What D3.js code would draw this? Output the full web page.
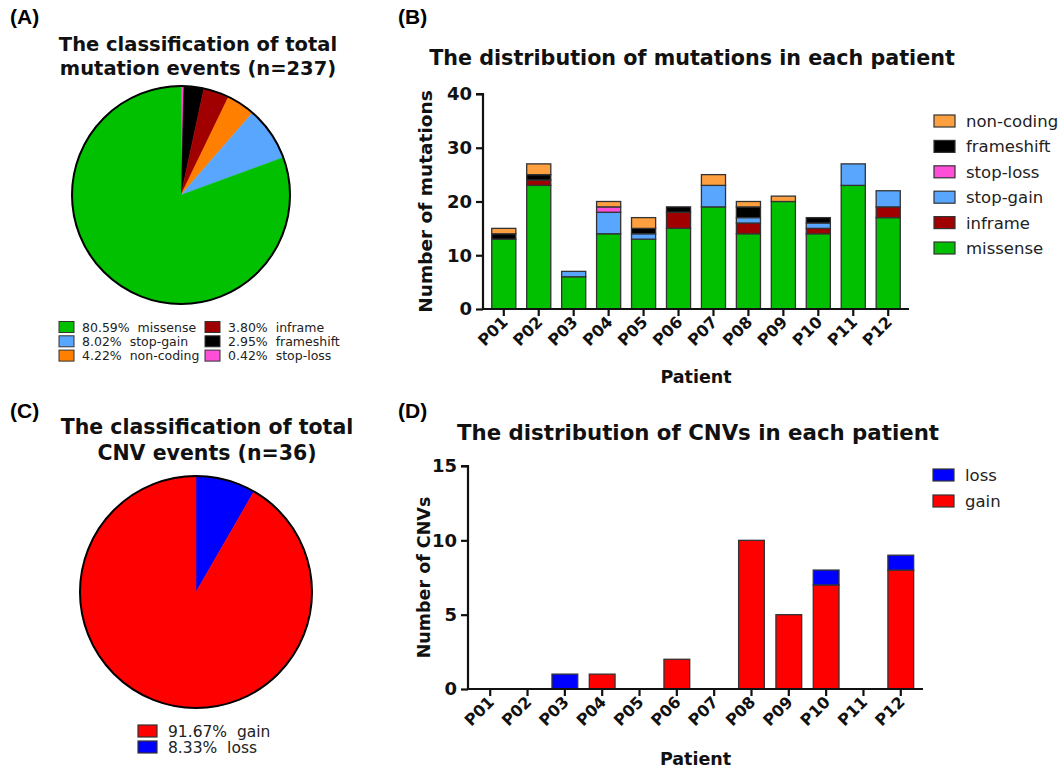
<!DOCTYPE html>
<html>
<head>
<meta charset="utf-8">
<script src="https://cdn.jsdelivr.net/npm/d3@7/dist/d3.min.js"></script>
<style>
  html, body { margin: 0; padding: 0; background: #fff; }
  svg { display: block; }
  .ttl { font-family: "DejaVu Sans", Verdana, sans-serif; font-weight: bold; fill: #111; }
  .lbl { font-family: "Liberation Sans", Arial, sans-serif; font-weight: bold; fill: #000; }
  .axis text { font-family: "DejaVu Sans", Verdana, sans-serif; font-weight: bold; fill: #111; }
  .axis path, .axis line { stroke: #111; stroke-width: 2.2px; }
  .leg { font-family: "DejaVu Sans", Verdana, sans-serif; fill: #222; }
</style>
</head>
<body>
<svg id="fig" width="1064" height="769"></svg>
<script>
// ---- data ----
const patients = ["P01","P02","P03","P04","P05","P06","P07","P08","P09","P10","P11","P12"];

// mutations per patient, by type (stack order bottom -> top)
const mutTypes   = ["missense","inframe","stop-gain","stop-loss","frameshift","non-coding"];
const missense   = [13,23,6,14,13,15,19,14,20,14,23,17];
const inframe    = [0,1,0,0,0,3,0,2,0,1,0,2];
const stopGain   = [0,0,1,4,1,0,4,1,0,1,4,3];
const stopLoss   = [0,0,0,1,0,0,0,0,0,0,0,0];
const frameshift = [1,1,0,0,1,1,0,2,0,1,0,0];
const nonCoding  = [1,2,0,1,2,0,2,1,1,0,0,0];
const mutTicks   = [0,10,20,30,40];

// CNVs per patient
const cnvTypes = ["gain","loss"];
const cnvGain  = [0,0,0,1,0,2,0,10,5,7,0,8];
const cnvLoss  = [0,0,1,0,0,0,0,0,0,1,0,1];
const cnvTicks = [0,5,10,15];

// pie summaries (clockwise from 12 o'clock)
const mutPieOrder = ["stop-loss","frameshift","inframe","non-coding","stop-gain","missense"];
const mutPiePct   = [0.42,2.95,3.80,4.22,8.02,80.59];
const cnvPieOrder = ["loss","gain"];
const cnvPiePct   = [8.33,91.67];

const mutPieColor = {"missense":"#00c000","stop-gain":"#59a6ff","non-coding":"#ff8000",
                     "inframe":"#a00000","frameshift":"#000000","stop-loss":"#ff4fd8"};
const mutBarColor = {"missense":"#00c000","stop-gain":"#59a6ff","non-coding":"#ffa040",
                     "inframe":"#a00000","frameshift":"#000000","stop-loss":"#ff4fd8"};
const cnvColor    = {"gain":"#ff0000","loss":"#0000ff"};

const svg = d3.select("#fig");

// panel letters
[["(A)",10,24],["(B)",398,24],["(C)",10,418],["(D)",398,418]].forEach(([t,x,y]) =>
  svg.append("text").attr("class","lbl").attr("x",x).attr("y",y)
    .style("font-size","21px").text(t));

function title(lines, cx, y0, size, gap) {
  lines.forEach((l,i) => svg.append("text").attr("class","ttl")
    .attr("x",cx).attr("y",y0+i*gap).attr("text-anchor","middle")
    .style("font-size",size+"px").text(l));
}

// ---- pie helper ----
function pie(cx, cy, r, names, pcts, colors) {
  const g = svg.append("g").attr("transform",`translate(${cx},${cy})`);
  const arcs = d3.pie().sort(null).value(d => d.v)(names.map((n,i)=>({n, v:pcts[i]})));
  const arc = d3.arc().innerRadius(0).outerRadius(r);
  g.selectAll("path.sl").data(arcs).join("path").attr("class","sl")
    .attr("d",arc).attr("fill",d=>colors[d.data.n]).attr("stroke",d=>colors[d.data.n]).attr("stroke-width",0.5);
  g.append("circle").attr("r",r).attr("fill","none").attr("stroke","#000").attr("stroke-width",2);
}

// ---- stacked bar helper ----
function stacked(opts) {
  const {x0,x1,yTop,yBot,maxY,ticks,series,keys,colors,yLabel,yLabelX,yLabelSize,xLabelY,tickFont,legend} = opts;
  const rows = patients.map((p,i) => {
    const o = {p}; keys.forEach(k => o[k] = series[k][i]); return o;
  });
  const x = d3.scaleBand().domain(patients).range([x0, x1]).paddingInner(0.31).paddingOuter(0.25);
  const y = d3.scaleLinear().domain([0,maxY]).range([yBot,yTop]);
  const st = d3.stack().keys(keys)(rows);
  const g = svg.append("g");
  st.forEach(layer => {
    g.selectAll(null).data(layer.filter(d => d[1] > d[0])).join("rect")
      .attr("x", d => x(d.data.p)).attr("width", x.bandwidth())
      .attr("y", d => y(d[1])).attr("height", d => y(d[0]) - y(d[1]))
      .attr("fill", colors[layer.key]).attr("stroke","#333").attr("stroke-width",1.3);
  });
  const ya = svg.append("g").attr("class","axis").attr("transform",`translate(${x0},0)`)
    .call(d3.axisLeft(y).tickValues(ticks).tickSize(7).tickPadding(4));
  ya.selectAll("text").style("font-size","18px");
  ya.select(".domain").attr("d",`M-7,${yTop}H0V${yBot}`);
  const xa = svg.append("g").attr("class","axis").attr("transform",`translate(0,${yBot})`)
    .call(d3.axisBottom(x).tickSize(7).tickSizeOuter(0));
  xa.select(".domain").attr("d",`M${x0},0H${x1}`);
  xa.selectAll("text").style("font-size",tickFont+"px").attr("text-anchor","end")
    .attr("dy",null).attr("y",0)
    .attr("transform","translate(5,14) rotate(-45)");
  svg.append("text").attr("class","ttl").style("font-size",yLabelSize+"px")
    .attr("transform",`translate(${yLabelX},${(yTop+yBot)/2}) rotate(-90)`)
    .attr("text-anchor","middle").text(yLabel);
  svg.append("text").attr("class","ttl").style("font-size","17.5px")
    .attr("x",(x0+x1)/2).attr("y",xLabelY).attr("text-anchor","middle").text("Patient");
  // legend
  const lg = svg.append("g");
  legend.keys.forEach((k,i) => {
    const yy = legend.y + i*legend.gap;
    lg.append("rect").attr("x",legend.x).attr("y",yy-6).attr("width",21).attr("height",12)
      .attr("fill",colors[k]).attr("stroke","#333").attr("stroke-width",1.2);
    lg.append("text").attr("class","leg").attr("x",legend.x+32).attr("y",yy+6)
      .style("font-size","16.5px").text(k);
  });
}

// ---- Panel A ----
title(["The classification of total","mutation events (n=237)"], 198, 51, 19.5, 24);
pie(181, 195, 109, mutPieOrder, mutPiePct, mutPieColor);
{
  const legA = [["missense",0,0],["stop-gain",0,1],["non-coding",0,2],
                ["inframe",1,0],["frameshift",1,1],["stop-loss",1,2]];
  legA.forEach(([k,c,r]) => {
    const i = mutPieOrder.indexOf(k);
    const xx = 59 + c*146, yy = 327 + r*14.3;
    svg.append("rect").attr("x",xx).attr("y",yy-5.5).attr("width",15).attr("height",11)
      .attr("fill",mutPieColor[k]).attr("stroke","#333").attr("stroke-width",1);
    svg.append("text").attr("class","leg").attr("x",xx+23).attr("y",yy+4.5)
      .style("font-size","12.5px").attr("xml:space","preserve")
      .text(mutPiePct[i].toFixed(2)+"%  "+k);
  });
}

// ---- Panel B ----
title(["The distribution of mutations in each patient"], 692, 65, 20.7, 0);
stacked({
  x0:483, x1:909, yTop:94, yBot:309, maxY:40, ticks:mutTicks,
  series:{"missense":missense,"inframe":inframe,"stop-gain":stopGain,"stop-loss":stopLoss,
          "frameshift":frameshift,"non-coding":nonCoding},
  keys:mutTypes, colors:mutBarColor, yLabel:"Number of mutations", yLabelX:432, yLabelSize:18.5,
  xLabelY:383, tickFont:16,
  legend:{x:934, y:121, gap:25.4, keys:mutTypes.slice().reverse()}
});

// ---- Panel C ----
title(["The classification of total","CNV events (n=36)"], 207, 434, 20.5, 26);
pie(196, 592, 116, cnvPieOrder, cnvPiePct, cnvColor);
{
  const legC = ["gain","loss"];
  legC.forEach((k,r) => {
    const i = cnvPieOrder.indexOf(k);
    const yy = 731 + r*16;
    svg.append("rect").attr("x",138).attr("y",yy-6).attr("width",19).attr("height",12)
      .attr("fill",cnvColor[k]).attr("stroke","#333").attr("stroke-width",1.2);
    svg.append("text").attr("class","leg").attr("x",168).attr("y",yy+5.5)
      .style("font-size","15.5px").attr("xml:space","preserve")
      .text(cnvPiePct[i].toFixed(2)+"%  "+k);
  });
}

// ---- Panel D ----
title(["The distribution of CNVs in each patient"], 698, 440, 21.3, 0);
stacked({
  x0:468, x1:923, yTop:466, yBot:689, maxY:15, ticks:cnvTicks,
  series:{"gain":cnvGain,"loss":cnvLoss},
  keys:cnvTypes, colors:cnvColor, yLabel:"Number of CNVs", yLabelX:430, yLabelSize:17.5,
  xLabelY:765, tickFont:16,
  legend:{x:933, y:475, gap:26, keys:["loss","gain"]}
});
</script>
</body>
</html>
